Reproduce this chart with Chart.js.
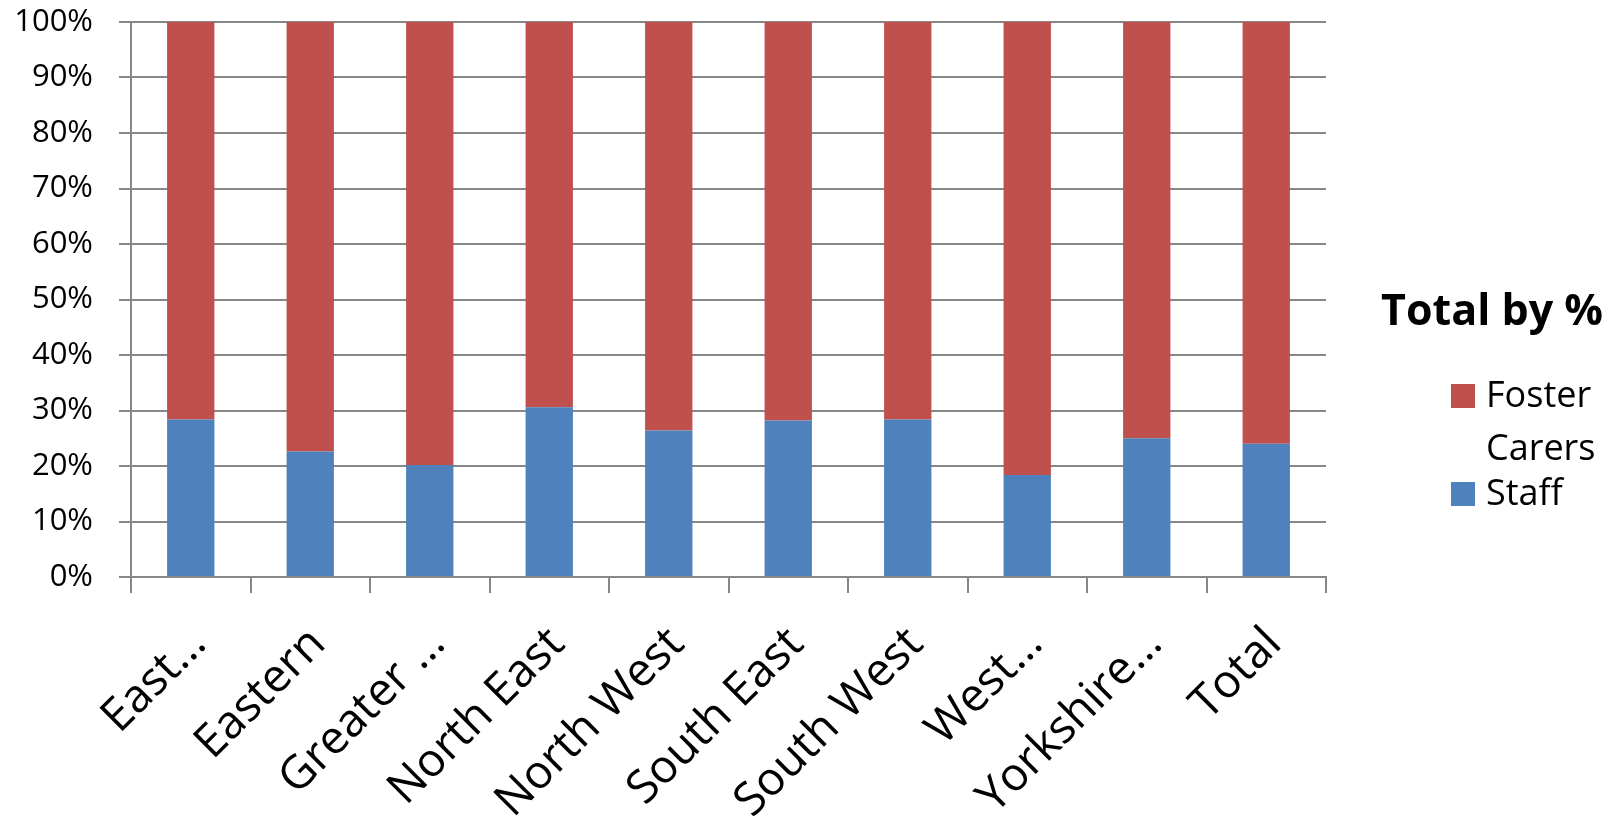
<!DOCTYPE html>
<html>
<head>
<meta charset="utf-8">
<script src="https://cdn.jsdelivr.net/npm/chart.js@4"></script>
<style>
  html, body { margin: 0; padding: 0; background: #ffffff; }
  #wrap { width: 1618px; height: 821px; position: relative; }
</style>
</head>
<body>
<div id="wrap"><canvas id="c" width="1618" height="821"></canvas></div>
<script>
const categories = ["East…", "Eastern", "Greater …", "North East", "North West", "South East", "South West", "West…", "Yorkshire…", "Total"];
const staffValues = [28.4, 22.6, 20.2, 30.6, 26.4, 28.2, 28.4, 18.4, 25.0, 24.0];
const fosterCarersValues = [71.6, 77.4, 79.8, 69.4, 73.6, 71.8, 71.6, 81.6, 75.0, 76.0];
const legendTitle = "Total by %";
const seriesNames = { staff: "Staff", foster: "Foster Carers" };
const legendLines = { foster: ["Foster", "Carers"], staff: ["Staff"] };

const BLUE = "#4F81BD";
const RED = "#C0504D";
const GRID = "#878787";
const FONT = "'Open Sans', 'Noto Sans', sans-serif";

const sideLegend = {
  id: "sideLegend",
  afterDraw(chart) {
    const ctx = chart.ctx;
    ctx.save();
    ctx.fillStyle = "#000000";
    ctx.textAlign = "center";
    ctx.textBaseline = "alphabetic";
    ctx.font = "bold 43px " + FONT;
    ctx.fillText(legendTitle, 1492, 325);

    const items = [
      { color: chart.data.datasets[1].backgroundColor, lines: legendLines.foster, boxY: 384, baseY: 407 },
      { color: chart.data.datasets[0].backgroundColor, lines: legendLines.staff, boxY: 482, baseY: 505 }
    ];
    ctx.textAlign = "left";
    ctx.font = "36px " + FONT;
    items.forEach(it => {
      ctx.fillStyle = it.color;
      ctx.fillRect(1451, it.boxY, 24, 24);
      ctx.fillStyle = "#000000";
      it.lines.forEach((ln, i) => ctx.fillText(ln, 1486, it.baseY + i * 53));
    });
    ctx.restore();
  }
};

new Chart(document.getElementById("c"), {
  type: "bar",
  data: {
    labels: categories,
    datasets: [
      { label: seriesNames.staff, data: staffValues, backgroundColor: BLUE, categoryPercentage: 0.396, barPercentage: 1.0 },
      { label: seriesNames.foster, data: fosterCarersValues, backgroundColor: RED, categoryPercentage: 0.396, barPercentage: 1.0 }
    ]
  },
  options: {
    responsive: false,
    devicePixelRatio: 1,
    animation: false,
    layout: { autoPadding: false, padding: { left: 0, right: 292, top: 22, bottom: 0 } },
    plugins: { legend: { display: false }, tooltip: { enabled: false }, title: { display: false } },
    scales: {
      x: {
        stacked: true,
        grid: { offset: true, drawOnChartArea: false, drawTicks: true, tickLength: 16, color: GRID, lineWidth: 2 },
        border: { display: true, color: GRID, width: 2 },
        ticks: {
          autoSkip: false, maxRotation: 45, minRotation: 45, padding: 24, labelOffset: 8,
          color: "#000000", font: { family: FONT, size: 46 }
        },
        afterFit(scale) { scale.height = 244; }
      },
      y: {
        stacked: true,
        min: 0, max: 100,
        grid: { color: GRID, lineWidth: 2, drawTicks: true, tickLength: 12 },
        border: { display: true, color: GRID, width: 2 },
        ticks: {
          stepSize: 10, padding: 26, color: "#000000",
          font: { family: FONT, size: 31 },
          callback: v => v + "%"
        },
        afterFit(scale) { scale.width = 131; scale.paddingTop = 0; scale.paddingBottom = 0; }
      }
    }
  },
  plugins: [sideLegend]
});
</script>
</body>
</html>
